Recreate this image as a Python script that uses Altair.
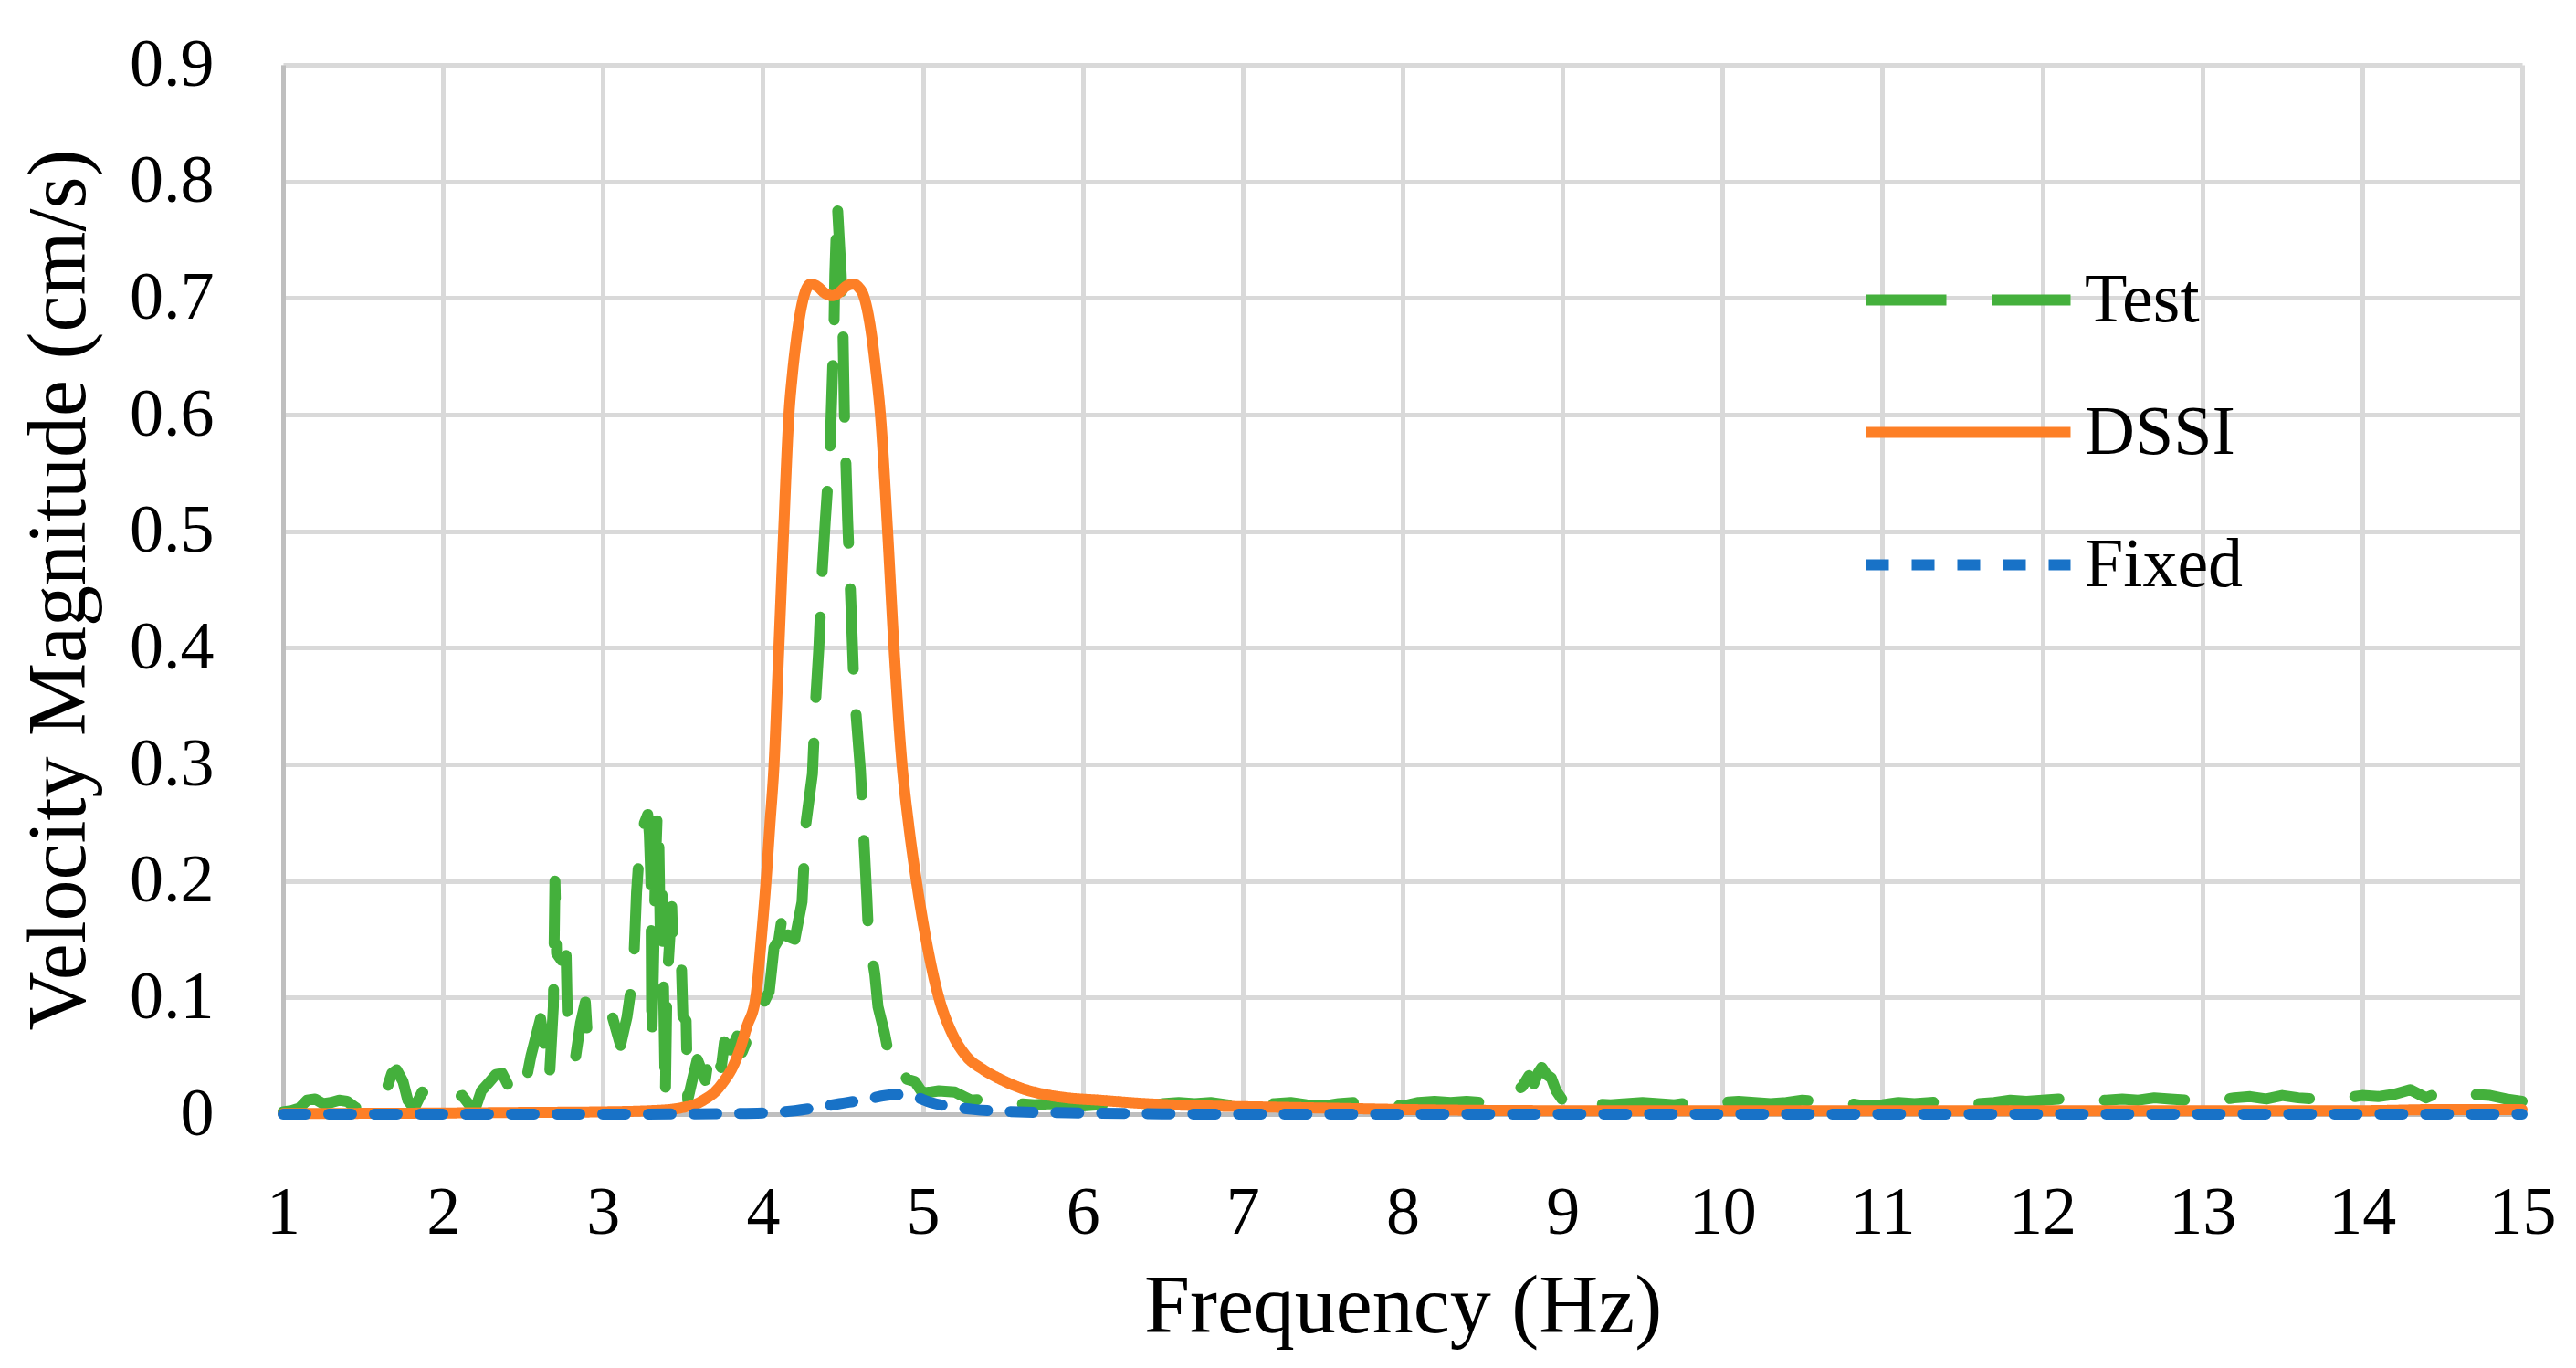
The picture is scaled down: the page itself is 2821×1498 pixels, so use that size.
import altair as alt
import pandas as pd

# ---------------- data ----------------
series_names = ["Test", "DSSI", "Fixed"]
series_colors = ["#44B03C", "#FD7F26", "#1872C7"]
series_dashes = [[88, 50], [1, 0], [25, 25]]

x_ticks = list(range(1, 16))
y_ticks = [0, 0.1, 0.2, 0.3, 0.4, 0.5, 0.6, 0.7, 0.8, 0.9]

test_f = [1.00, 1.05, 1.10, 1.15, 1.20, 1.25, 1.30, 1.35, 1.40, 1.45, 1.50, 1.55, 1.60, 1.64, 1.68, 1.71,
          1.75, 1.78, 1.82, 1.87, 1.92, 1.96, 2.01, 2.06, 2.12, 2.17, 2.20, 2.24, 2.28, 2.33, 2.37, 2.41,
          2.46, 2.50, 2.55, 2.61, 2.665, 2.69, 2.70, 2.71, 2.74, 2.77, 2.78, 2.83, 2.86, 2.89, 2.90, 2.93,
          2.97, 3.00, 3.06, 3.11, 3.15, 3.19, 3.21, 3.23, 3.26, 3.28, 3.29, 3.30, 3.305, 3.315, 3.33, 3.34,
          3.35, 3.36, 3.37, 3.38, 3.39, 3.40, 3.43, 3.44, 3.47, 3.49, 3.50, 3.52, 3.53, 3.56, 3.59, 3.64,
          3.67, 3.70, 3.74, 3.76, 3.80, 3.84, 3.87, 3.92, 3.98, 4.04, 4.07, 4.10, 4.13, 4.16, 4.20, 4.245,
          4.27, 4.31, 4.33, 4.35, 4.37, 4.39, 4.42, 4.43, 4.445, 4.45, 4.465, 4.49, 4.50, 4.51, 4.53, 4.55,
          4.57, 4.61, 4.63, 4.65, 4.66, 4.70, 4.72, 4.76, 4.80, 4.85, 4.90, 4.95,
          5.0, 5.1, 5.2, 5.3, 5.4, 5.5, 5.6, 5.7, 5.8, 5.9,
          6.0, 6.1, 6.2, 6.3, 6.4, 6.5, 6.6, 6.7, 6.8, 6.9,
          7.0, 7.1, 7.2, 7.3, 7.4, 7.5, 7.6, 7.7, 7.8, 7.9,
          8.0, 8.1, 8.2, 8.3, 8.4, 8.5, 8.55, 8.6, 8.65, 8.7, 8.75, 8.79, 8.82, 8.85, 8.87, 8.9, 8.93, 8.96,
          9.0, 9.04, 9.1, 9.2, 9.3, 9.4, 9.5, 9.6, 9.7, 9.8, 9.9,
          10.0, 10.1, 10.2, 10.3, 10.4, 10.5, 10.6, 10.7, 10.8, 10.9,
          11.0, 11.1, 11.2, 11.3, 11.4, 11.5, 11.6, 11.7, 11.8, 11.9,
          12.0, 12.1, 12.2, 12.3, 12.4, 12.5, 12.6, 12.7, 12.8, 12.9,
          13.0, 13.1, 13.2, 13.3, 13.4, 13.5, 13.6, 13.7, 13.8, 13.9,
          14.0, 14.1, 14.2, 14.3, 14.4, 14.5, 14.6, 14.7, 14.8, 14.9, 15.0]
test_v = [0.002, 0.003, 0.005, 0.012, 0.013, 0.009, 0.010, 0.012, 0.011, 0.006, 0.003, 0.005, 0.014, 0.018, 0.035, 0.038,
          0.028, 0.012, 0.005, 0.019, 0.014, 0.017, 0.010, 0.013, 0.016, 0.007, 0.004, 0.020, 0.026, 0.034, 0.035, 0.024,
          0.022, 0.015, 0.050, 0.082, 0.030, 0.092, 0.200, 0.138, 0.132, 0.136, 0.068, 0.050, 0.078, 0.096, 0.073, 0.088,
          0.092, 0.090, 0.083, 0.059, 0.083, 0.121, 0.190, 0.230, 0.250, 0.257, 0.240, 0.200, 0.062, 0.120, 0.220, 0.260,
          0.228, 0.140, 0.188, 0.100, 0.012, 0.110, 0.178, 0.134, 0.128, 0.130, 0.084, 0.080, 0.012, 0.030, 0.047, 0.029,
          0.058, 0.050, 0.040, 0.062, 0.055, 0.067, 0.053, 0.070, 0.088, 0.105, 0.143, 0.150, 0.178, 0.152, 0.150, 0.182,
          0.250, 0.292, 0.355, 0.400, 0.463, 0.508, 0.570, 0.612, 0.676, 0.720, 0.782, 0.720, 0.680, 0.600, 0.510, 0.440,
          0.365, 0.295, 0.240, 0.186, 0.155, 0.120, 0.092, 0.070, 0.042, 0.044, 0.030, 0.028,
          0.018, 0.020, 0.019, 0.012, 0.013, 0.011, 0.009, 0.008, 0.009, 0.008,
          0.007, 0.008, 0.009, 0.008, 0.007, 0.009, 0.010, 0.009, 0.010, 0.008,
          0.008, 0.010, 0.009, 0.010, 0.008, 0.007, 0.009, 0.010, 0.009, 0.008,
          0.007, 0.010, 0.011, 0.010, 0.011, 0.010, 0.013, 0.014, 0.016, 0.018, 0.024, 0.033, 0.026, 0.036, 0.040, 0.034, 0.031, 0.020,
          0.012, 0.005, 0.006, 0.009, 0.008, 0.009, 0.010, 0.009, 0.008, 0.010, 0.009,
          0.010, 0.011, 0.010, 0.009, 0.010, 0.012, 0.011, 0.010, 0.009, 0.007,
          0.008, 0.010, 0.009, 0.010, 0.011, 0.010, 0.009, 0.010, 0.012, 0.011,
          0.012, 0.013, 0.012, 0.011, 0.012, 0.013, 0.012, 0.014, 0.013, 0.012,
          0.011, 0.012, 0.014, 0.015, 0.013, 0.016, 0.014, 0.013, 0.012, 0.014,
          0.016, 0.015, 0.017, 0.021, 0.014, 0.020, 0.019, 0.017, 0.016, 0.013, 0.011]

dssi_f = [1.0, 1.5, 2.0, 2.5, 3.0, 3.3, 3.45, 3.51, 3.57, 3.64, 3.70, 3.76, 3.81, 3.855, 3.90, 3.955,
          3.99, 4.02, 4.045, 4.07, 4.10, 4.13, 4.163, 4.185, 4.21, 4.235, 4.26, 4.30, 4.34, 4.39, 4.435,
          4.48, 4.52, 4.568, 4.60, 4.63, 4.66, 4.68, 4.705, 4.735, 4.78, 4.82, 4.87, 4.91, 4.96, 5.02,
          5.10, 5.18, 5.27, 5.38, 5.5, 5.62, 5.76, 5.9, 6.1, 6.4, 6.8, 7.2, 7.6, 8.0, 9.0, 10.0, 11.0,
          12.0, 13.0, 14.0, 14.5, 15.0]
dssi_v = [0.0005, 0.0007, 0.001, 0.0015, 0.002, 0.003, 0.0045, 0.006, 0.008, 0.013, 0.019, 0.029, 0.040, 0.055, 0.075, 0.10,
          0.15, 0.20, 0.25, 0.30, 0.40, 0.50, 0.60, 0.635, 0.665, 0.688, 0.703, 0.712, 0.710, 0.704, 0.702,
          0.705, 0.710, 0.712, 0.709, 0.702, 0.685, 0.668, 0.64, 0.60, 0.50, 0.40, 0.30, 0.25, 0.20, 0.15,
          0.10, 0.07, 0.05, 0.038, 0.029, 0.022, 0.017, 0.014, 0.012, 0.009, 0.007, 0.006, 0.005, 0.004, 0.003, 0.003, 0.003,
          0.003, 0.003, 0.003, 0.004, 0.004]

fixed_f = [1.0, 3.0, 3.8, 4.0, 4.2, 4.35, 4.48, 4.62, 4.77, 4.86, 4.95, 5.05, 5.2, 5.32, 5.6, 6.0, 7.0, 15.0]
fixed_v = [0.0, 0.0, 0.0005, 0.001, 0.003, 0.006, 0.009, 0.012, 0.016, 0.017, 0.015, 0.010, 0.006, 0.004, 0.002, 0.001, 0.0, 0.0]

df_test = pd.DataFrame({"f": test_f, "v": test_v, "series": "Test"})
df_dssi = pd.DataFrame({"f": dssi_f, "v": dssi_v, "series": "DSSI"})
df_fixed = pd.DataFrame({"f": fixed_f, "v": fixed_v, "series": "Fixed"})

FONT = "Liberation Serif"

x_enc = alt.X("f:Q", title="Frequency (Hz)",
              scale=alt.Scale(domain=[1, 15], nice=False, zero=False),
              axis=alt.Axis(values=x_ticks, format="d", labelPadding=72, titlePadding=22,
                            labelFlush=False, labelOverlap=False))
y_enc = alt.Y("v:Q", title="Velocity Magnitude (cm/s)",
              scale=alt.Scale(domain=[0, 0.9], nice=False),
              axis=alt.Axis(values=y_ticks, format=".1~f", labelPadding=76, titlePadding=30,
                            labelFlush=False, labelOverlap=False))

legend = alt.Legend(title=None, orient="none", legendX=1802, legendY=214,
                    symbolType="M-3,0H3", symbolSize=5575, symbolStrokeWidth=12,
                    labelFontSize=76, labelFont=FONT, labelColor="black", labelOffset=84,
                    rowPadding=63, padding=0, labelLimit=400)

color_enc = alt.Color("series:N", scale=alt.Scale(domain=series_names, range=series_colors), legend=legend)
dash_enc = alt.StrokeDash("series:N", scale=alt.Scale(domain=series_names, range=series_dashes), legend=legend)


def line(df, interp):
    return alt.Chart(df).mark_line(strokeWidth=12, strokeCap="round", strokeJoin="round",
                                   interpolate=interp, clip=False).encode(
        x=x_enc, y=y_enc, color=color_enc, strokeDash=dash_enc, order="f:Q")


chart = alt.layer(
    line(df_test, "linear"),
    line(df_dssi, "monotone"),
    line(df_fixed, "monotone"),
).properties(
    width=2452, height=1149,
    autosize=alt.AutoSizeParams(type="none"),
    padding={"left": 302, "top": 63, "right": 51, "bottom": 270},
    background="white",
).configure_view(stroke=None).configure_axis(
    labelFont=FONT, titleFont=FONT, labelFontSize=74, titleFontSize=90,
    labelColor="black", titleColor="black", titleFontWeight="normal",
    grid=True, gridColor="#D9D9D9", gridWidth=5,
    domainColor="#BFBFBF", domainWidth=5, ticks=False,
)

chart.save("out.html", embed_options={"renderer": "svg", "actions": False})
